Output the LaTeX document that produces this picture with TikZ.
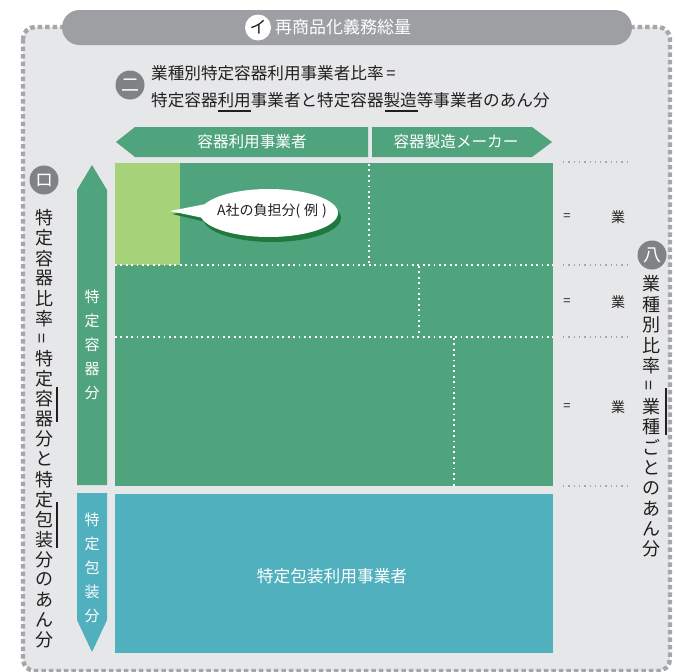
\documentclass[tikz,border=0pt]{standalone}
\usepackage{fontspec}
\setmainfont{Noto Sans CJK JP}
\usetikzlibrary{shapes.geometric}
\definecolor{bg}{HTML}{E6E7E8}
\definecolor{dashc}{HTML}{A5A7AA}
\definecolor{banner}{HTML}{9D9FA2}
\definecolor{circ}{HTML}{808285}
\definecolor{grn}{HTML}{4FA47E}
\definecolor{lgrn}{HTML}{A6D27A}
\definecolor{blu}{HTML}{50B0BE}
\definecolor{shad}{HTML}{1E7A3C}
\definecolor{ink}{HTML}{231F20}
\tikzset{
  fs/.style={font=\fontsize{#1}{#1}\selectfont},
  badge/.style={circle, fill=circ, text=white, minimum size=29pt, inner sep=0, fs=18},
  wdots/.style={white, line width=1.8, dash pattern=on 1.8 off 3.6},
  gdots/.style={dashc, line width=1.3, dash pattern=on 1.3 off 4},
  vchar/.style={inner sep=0, text=ink, fs=18},
  wchar/.style={inner sep=0, text=white, fs=15},
  side/.style={ink, line width=1.1}
}
\begin{document}
\begin{tikzpicture}[x=1pt,y=-1pt]
\useasboundingbox (0,0) rectangle (675,672);
\fill[white] (0,0) rectangle (675,672);
% outer dashed frame
\draw[dashc, fill=bg, line width=4.4, dash pattern=on 4.5 off 3, rounded corners=12] (23,27) rectangle (670,671);
% banner
\node[fill=banner, rounded corners=17.5, minimum width=570, minimum height=35, inner sep=0] (banner) at (347,27.5) {};
\node[circle, fill=white, text=ink, minimum size=26pt, inner sep=0, fs=17] (ibadge) at (258,27.5) {イ};
\node[anchor=west, inner sep=0, text=white, fs=17] (title) at (275,27.5) {再商品化義務総量};
% ni
\node[badge] (nibadge) at (130,85) {二};
\node[anchor=west, inner sep=0, text=ink, fs=16.6] (ni1) at (151,73) {業種別特定容器利用事業者比率\,=};
\node[anchor=west, inner sep=0, text=ink, fs=16.6] (ni2) at (151,100) {特定容器利用事業者と特定容器製造等事業者のあん分};
\draw[side] (218,111) -- (251,111);
\draw[side] (385,111) -- (418,111);
% top arrows
\fill[grn] (116,142) -- (135,127) -- (368,127) -- (368,157) -- (135,157) -- cycle;
\node[inner sep=0, text=white, fs=15.6] (useL) at (252,142) {容器利用事業者};
\fill[grn] (372,127) -- (532,127) -- (552,142) -- (532,157) -- (372,157) -- cycle;
\node[inner sep=0, text=white, fs=15.6] (makerL) at (456,142) {容器製造メーカー};
% main green block
\fill[grn] (115,163) rectangle (553,486);
\fill[lgrn] (115,163) rectangle (180,265);
\draw[wdots] (115,265) -- (553,265);
\draw[wdots] (115,337) -- (553,337);
\draw[wdots] (369,164) -- (369,264);
\draw[wdots] (419,266) -- (419,336);
\draw[wdots] (454,338) -- (454,486);
% blue block
\node[fill=blu, minimum width=438, minimum height=159, inner sep=0] (pack) at (334,573.5) {};
\node[inner sep=0, text=white, fs=16.7] (packL) at (332,576) {特定包装利用事業者};
% bubble
\fill[shad] (208,208) -- (172,214) -- (210,223) -- cycle;
\fill[shad] (272,218) ellipse [x radius=69, y radius=24];
\node[ellipse, fill=white, minimum width=138, minimum height=48, inner sep=0] (bubble) at (269,213) {};
\fill[white] (206,204) -- (170,211) -- (208,219) -- cycle;
\node[inner sep=0, text=ink, fs=14] (bubbleL) at (272,211) {A社の負担分(\;例\;)};
% vertical arrows
\fill[grn] (92,165) -- (107,190) -- (107,485) -- (77,485) -- (77,190) -- cycle;
\foreach \c [count=\i] in {特,定,容,器,分}
  \node[wchar] (gc\i) at (92,297+24*\i-24) {\c};
\fill[blu] (77,493) -- (107,493) -- (107,620) -- (92,652) -- (77,620) -- cycle;
\foreach \c [count=\i] in {特,定,包,装,分}
  \node[wchar] (bc\i) at (92,520+24*\i-24) {\c};
% right side dotted lines and labels
\foreach \y [count=\i] in {162,265,337,486}
  \draw[gdots] (563,\y) -- (629,\y);
\foreach \y [count=\i] in {217,302,407} {
  \node[inner sep=0, text=ink, fs=13] (eq\i) at (567,\y) {=};
  \node[inner sep=0, text=ink, fs=14] (gy\i) at (618,\y) {業};
}
% left label ro
\node[badge] (robadge) at (44,180) {ロ};
\foreach \c [count=\i] in {特,定,容,器,比,率,{\rotatebox[origin=c]{90}{=}},特,定,容,器,分,と,特,定,包,装,分,の,あ,ん,分}
  \node[vchar] (lc\i) at (44,218+20.1*\i-20.1) {\c};
\draw[side] (57,387) -- (57,422);
\draw[side] (57,502) -- (57,548);
% right label ha
\node[badge] (habadge) at (652,255) {八};
\foreach \c [count=\i] in {業,種,別,比,率,{\rotatebox[origin=c]{90}{=}},業,種,ご,と,の,あ,ん,分}
  \node[vchar] (rc\i) at (651,284+20.4*\i-20.4) {\c};
\draw[side] (666,388) -- (666,435);
\end{tikzpicture}
\end{document}
